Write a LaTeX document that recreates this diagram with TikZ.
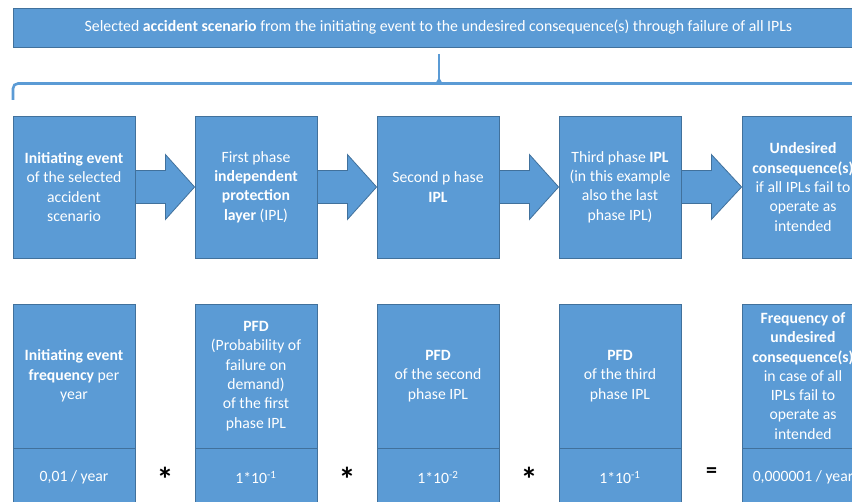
\documentclass[tikz,border=0pt]{standalone}
\usepackage{fontspec}
\setmainfont{Carlito}
\usetikzlibrary{calc}
\definecolor{boxblue}{HTML}{5B9BD5}
\definecolor{edgeblue}{HTML}{41719C}
\begin{document}
\begin{tikzpicture}[x=1pt,y=-1pt,
  cell/.style={draw=edgeblue, line width=0.8pt, fill=boxblue, text=white,
    align=center, minimum width=122pt, inner sep=0pt,
    font=\fontsize{15.7}{19.3}\selectfont},
  stepbox/.style={cell, minimum height=142pt},
  upper/.style={cell, minimum height=144pt},
  lower/.style={cell, minimum height=58pt},
  blockarrow/.style={draw=edgeblue, line width=0.8pt, fill=boxblue, line join=miter},
  bracepen/.style={draw=boxblue, line width=2.6pt},
  op/.style={text=black, inner sep=0pt, font=\fontsize{34}{34}\selectfont\bfseries},
]
\path[use as bounding box, clip] (0,0) rectangle (852,502);
\fill[white] (0,0) rectangle (852,502);

% scenario banner
\node[cell, minimum width=851pt, minimum height=39pt,
      font=\fontsize{15.8}{18}\selectfont] (scenario) at (438.5,27.5)
  {Selected \textbf{accident scenario} from the initiating event to the undesired consequence(s) through failure of all IPLs};

% curly brace under the banner
\draw[bracepen, rounded corners=5pt] (13,100) -- (13,83.5) -- (866,83.5) -- (866,100);
\draw[draw=boxblue, line width=2pt] (439,54) -- (439,83.5);
\fill[boxblue] (435.5,83.5) -- (439,77) -- (442.5,83.5) -- cycle;

% phases of the accident scenario
\node[stepbox] (s1) at (74,187)
  {\textbf{Initiating event}\\of the selected\\accident\\scenario};
\node[stepbox] (s2) at (256,187)
  {First phase\\\textbf{independent}\\\textbf{protection}\\\textbf{layer} (IPL)};
\node[stepbox] (s3) at (438,187)
  {Second p hase\\\textbf{IPL}};
\node[stepbox] (s4) at (620,187)
  {Third phase \textbf{IPL}\\(in this example\\also the last\\phase IPL)};
\node[stepbox] (s5) at (803,187)
  {\textbf{Undesired}\\\textbf{consequence(s)}\\if all IPLs fail to\\operate as\\intended};

% block arrows between phases
\foreach \a/\b in {s1/s2, s2/s3, s3/s4, s4/s5}{
  \draw[blockarrow] ($(\a.east)+(0,-16.5)$) -- ($(\a.east)+(30,-16.5)$)
    -- ($(\a.east)+(30,-32.5)$) -- (\b.west) -- ($(\a.east)+(30,32.5)$)
    -- ($(\a.east)+(30,16.5)$) -- ($(\a.east)+(0,16.5)$) -- cycle;
}

% frequency calculation table
\node[upper] (u1) at (74,376)
  {\textbf{Initiating event}\\\textbf{frequency} per\\year};
\node[upper] (u2) at (256,376)
  {\textbf{PFD}\\(Probability of\\failure on\\demand)\\of the first\\phase IPL};
\node[upper] (u3) at (438,376)
  {\textbf{PFD}\\of the second\\phase IPL};
\node[upper] (u4) at (620,376)
  {\textbf{PFD}\\of the third\\phase IPL};
\node[upper] (u5) at (803,376)
  {\textbf{Frequency of}\\\textbf{undesired}\\\textbf{consequence(s)}\\in case of all\\IPLs fail to\\operate as\\intended};

\node[lower, anchor=north] (l1) at (u1.south) {0,01 / year};
\node[lower, anchor=north] (l2) at (u2.south) {1*10\textsuperscript{-1}};
\node[lower, anchor=north] (l3) at (u3.south) {1*10\textsuperscript{-2}};
\node[lower, anchor=north] (l4) at (u4.south) {1*10\textsuperscript{-1}};
\node[lower, anchor=north] (l5) at (u5.south) {0,000001 / year};

% operators
\node[op] (m1) at ($(l1.east)!0.5!(l2.west)+(0,1.5)$) {*};
\node[op] (m2) at ($(l2.east)!0.5!(l3.west)+(0,1.5)$) {*};
\node[op] (m3) at ($(l3.east)!0.5!(l4.west)+(0,1.5)$) {*};
\node[font=\fontsize{22}{22}\selectfont\bfseries, inner sep=0pt] (eq)
  at ($(l4.east)!0.5!(l5.west)+(0,-5.5)$) {=};
\end{tikzpicture}
\end{document}
